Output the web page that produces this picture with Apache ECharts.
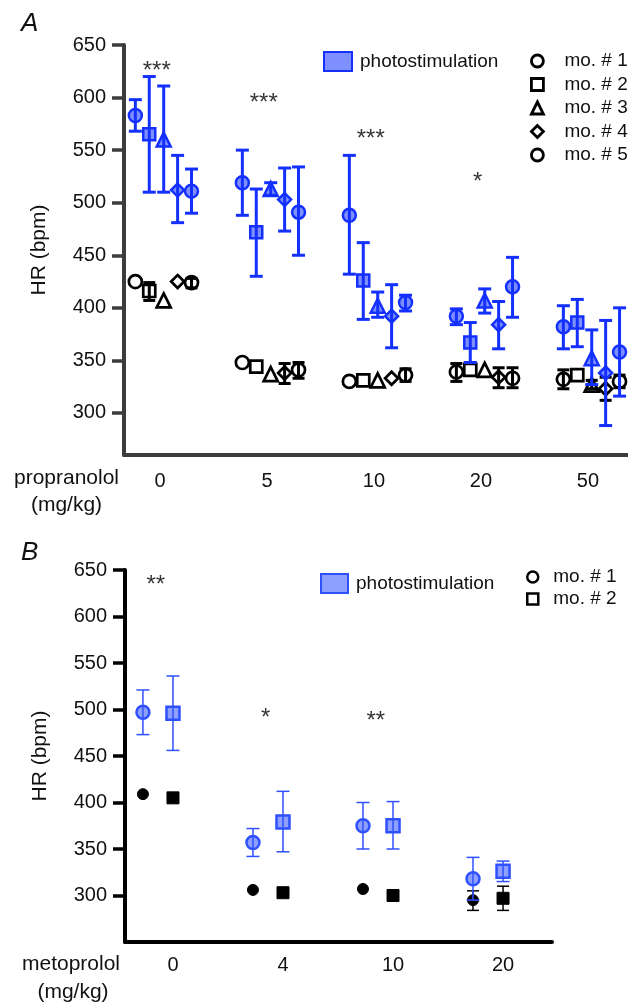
<!DOCTYPE html>
<html><head><meta charset="utf-8">
<script src="https://cdn.jsdelivr.net/npm/echarts@6/dist/echarts.min.js"></script>
<style>html,body{margin:0;padding:0;background:#fff}#c{width:628px;height:1005px}</style>
</head><body><div id="c"></div>
<script>
// ---------- DATA ----------
const dosesA = ['0', '5', '10', '20', '50'];
const dosesB = ['0', '4', '10', '20'];
const miceA = ['mo. # 1', 'mo. # 2', 'mo. # 3', 'mo. # 4', 'mo. # 5'];
const miceB = ['mo. # 1', 'mo. # 2'];
const yTicks = [300, 350, 400, 450, 500, 550, 600, 650];

// Panel A photostimulation: [mouse][dose]
const stimA    = [[583, 519, 488, 392, 382], [565, 472, 426, 367, 386], [560, 513, 402, 407, 352], [512, 503, 392, 384, 338], [511, 491, 405, 420, 358]];
const stimA_lo = [[568, 488, 432, 384, 361], [510, 430, 389, 348, 363], [510, 507, 391, 395, 327], [481, 473, 362, 361, 288], [490, 450, 397, 391, 316]];
const stimA_hi = [[598, 550, 545, 399, 402], [620, 513, 462, 386, 408], [611, 519, 415, 418, 379], [545, 533, 422, 406, 388], [532, 534, 412, 448, 400]];
// Panel A baseline
const baseA    = [[425, 348, 330, 339, 332], [416, 344, 331, 341, 336], [407, 337, 331, 341, 327], [425, 338, 333, 334, 323], [424, 341, 336, 333, 330]];
const baseA_lo = [[425, 348, 330, 330, 323], [407, 344, 331, 341, 336], [407, 337, 331, 341, 323], [425, 328, 333, 324, 312], [419, 333, 330, 324, 324]];
const baseA_hi = [[425, 348, 330, 347, 341], [424, 344, 331, 341, 336], [407, 337, 331, 341, 331], [425, 347, 333, 343, 334], [428, 348, 342, 343, 336]];

// Panel B
const stimB    = [[497, 357, 375, 318], [496, 379, 375, 326]];
const stimB_lo = [[473, 342, 350, 295], [456, 347, 350, 315]];
const stimB_hi = [[521, 372, 400, 341], [536, 412, 401, 337]];
const baseB    = [[409, 306, 307, 295], [405, 303, 300, 297]];
const baseB_lo = [[409, 306, 307, 284], [401, 299, 296, 284]];
const baseB_hi = [[409, 306, 307, 305], [409, 307, 305, 310]];

// significance marks and the HR level they are written at
const sigA = ['***', '***', '***', '*'];
const sigA_at = [625, 594, 560, 519];
const sigB = ['**', '*', '**'];
const sigB_at = [634, 490, 487];

// ---------- LAYOUT / STYLE ----------
const FONT = '"Liberation Sans", Arial, Helvetica, sans-serif';
const offA = [-0.23, -0.10, 0.035, 0.165, 0.295];
const offB = [-0.273, 0];
const shapesA = ['circle', 'rect', 'triangle', 'diamond', 'circle'];
const sizesA = [13, 12, 14, 13, 13];
const shapesB = ['circle', 'rect'];
const BLUE = '#1430ff', BLUE_FILL = '#7e8fff';
const BLUE_B = '#2f50ff', BLUE_B_FILL = '#8ea0ff';

function errSeries(xi, pts, color, lw, cap, z) {
  return {
    type: 'custom', name: 'err', xAxisIndex: xi, yAxisIndex: xi, z: z, silent: true,
    data: pts, encode: { x: 0, y: [1, 2] },
    renderItem: function (params, api) {
      const x = api.value(0), lo = api.value(1), hi = api.value(2);
      if (!(hi > lo)) return null;
      const a = api.coord([x, hi]), b = api.coord([x, lo]);
      const st = { stroke: color, lineWidth: lw };
      return { type: 'group', children: [
        { type: 'line', shape: { x1: a[0], y1: a[1], x2: b[0], y2: b[1] }, style: st },
        { type: 'line', shape: { x1: a[0] - cap / 2, y1: a[1], x2: a[0] + cap / 2, y2: a[1] }, style: st },
        { type: 'line', shape: { x1: b[0] - cap / 2, y1: b[1], x2: b[0] + cap / 2, y2: b[1] }, style: st }
      ]};
    }
  };
}

const series = [];
// Panel A
miceA.forEach(function (m, k) {
  series.push({ type: 'scatter', name: m, xAxisIndex: 0, yAxisIndex: 0, z: 2, symbol: shapesA[k], symbolSize: sizesA[k],
    itemStyle: { color: '#fff', borderColor: '#000', borderWidth: 2.7, opacity: 1 },
    data: baseA[k].map(function (v, i) { return [i + offA[k], v]; }) });
  series.push(errSeries(0, baseA[k].map(function (v, i) { return [i + offA[k], baseA_lo[k][i], baseA_hi[k][i]]; }), '#000', 3, 12, 3));
});
miceA.forEach(function (m, k) {
  series.push({ type: 'scatter', name: 'photostimulation', xAxisIndex: 0, yAxisIndex: 0, z: 4, symbol: shapesA[k], symbolSize: sizesA[k],
    itemStyle: { color: BLUE_FILL, borderColor: BLUE, borderWidth: 2.5, opacity: 1 },
    data: stimA[k].map(function (v, i) { return [i + offA[k], v]; }) });
  series.push(errSeries(0, stimA[k].map(function (v, i) { return [i + offA[k], stimA_lo[k][i], stimA_hi[k][i]]; }), BLUE, 3, 13, 5));
});
// Panel B
miceB.forEach(function (m, k) {
  series.push({ type: 'scatter', name: m, xAxisIndex: 1, yAxisIndex: 1, z: 2, symbol: shapesB[k], symbolSize: k === 0 ? 11 : 12,
    itemStyle: { color: '#000', borderColor: '#000', borderWidth: 1, opacity: 1 },
    data: baseB[k].map(function (v, i) { return [i + offB[k], v]; }) });
  series.push(errSeries(1, baseB[k].map(function (v, i) { return [i + offB[k], baseB_lo[k][i], baseB_hi[k][i]]; }), '#000', 1.5, 12, 3));
});
miceB.forEach(function (m, k) {
  series.push({ type: 'scatter', name: 'photostimulation', xAxisIndex: 1, yAxisIndex: 1, z: 4, symbol: shapesB[k], symbolSize: 13,
    itemStyle: { color: BLUE_B_FILL, borderColor: BLUE_B, borderWidth: 2.5, opacity: 1 },
    data: stimB[k].map(function (v, i) { return [i + offB[k], v]; }) });
  series.push(errSeries(1, stimB[k].map(function (v, i) { return [i + offB[k], stimB_lo[k][i], stimB_hi[k][i]]; }), BLUE_B, 1.5, 13, 5));
});
// significance labels
const sigLabel = { show: true, position: 'inside', fontSize: 24, color: '#000', fontFamily: FONT };
series.push({ type: 'scatter', name: 'sig', xAxisIndex: 0, yAxisIndex: 0, symbolSize: 0, silent: true, z: 6,
  data: sigA.map(function (s, i) { return [i - 0.03, sigA_at[i]]; }),
  label: Object.assign({ formatter: function (p) { return sigA[p.dataIndex]; } }, sigLabel) });
series.push({ type: 'scatter', name: 'sig', xAxisIndex: 1, yAxisIndex: 1, symbolSize: 0, silent: true, z: 6,
  data: sigB.map(function (s, i) { return [i + (offB[0] + offB[1]) / 2 - 0.02, sigB_at[i]]; }),
  label: Object.assign({ formatter: function (p) { return sigB[p.dataIndex]; } }, sigLabel) });

function yAxis(gi, min, color) {
  return {
    type: 'value', gridIndex: gi, min: min, max: 650,
    name: 'HR (bpm)', nameLocation: 'middle', nameGap: 74,
    nameTextStyle: { fontSize: 21, color: '#111', fontFamily: FONT },
    axisLine: { show: true, onZero: false, lineStyle: { color: color, width: 4 } },
    axisTick: { show: true, length: 12, customValues: yTicks, lineStyle: { color: color, width: 3.5 } },
    axisLabel: { customValues: yTicks, margin: 18, fontSize: 20, color: '#111', fontFamily: FONT },
    splitLine: { show: false }
  };
}
function xAxis(gi, min, max, doses, color, margin) {
  return {
    type: 'value', gridIndex: gi, min: min, max: max,
    axisLine: { show: true, onZero: false, lineStyle: { color: color, width: 4 } },
    axisTick: { show: false },
    axisLabel: { customValues: doses.map(function (d, i) { return i; }), margin: margin, fontSize: 20, color: '#111', fontFamily: FONT,
      formatter: function (v) { return doses[Math.round(v)]; } },
    splitLine: { show: false }
  };
}

const legendText = { fontSize: 19, color: '#111', fontFamily: FONT };
const option = {
  animation: false,
  backgroundColor: '#fff',
  grid: [
    { left: 124, top: 45, width: 504, height: 410, outerBoundsMode: 'none', containLabel: false },
    { left: 125, top: 570, width: 427, height: 372, outerBoundsMode: 'none', containLabel: false }
  ],
  xAxis: [xAxis(0, -0.336, 4.374, dosesA, '#3c3c3c', 16), xAxis(1, -0.436, 3.445, dosesB, '#000', 13)],
  yAxis: [yAxis(0, 260, '#3c3c3c'), yAxis(1, 250, '#000')],
  legend: [
    { left: 323, top: 51, padding: 0, itemWidth: 28, itemHeight: 19, selectedMode: false,
      textStyle: Object.assign({ padding: [0, 0, 0, 3] }, legendText),
      data: [{ name: 'photostimulation', icon: 'rect', itemStyle: { color: BLUE_FILL, borderColor: BLUE, borderWidth: 2 } }] },
    { left: 530, top: 51.5, padding: 0, orient: 'vertical', itemWidth: 12, itemHeight: 12, itemGap: 4.5, selectedMode: false,
      textStyle: Object.assign({ padding: [0, 0, 0, 16] }, legendText),
      data: miceA.map(function (m, k) { return { name: m, icon: shapesA[k], itemStyle: { color: '#fff', borderColor: '#000', borderWidth: 2.8 } }; }) },
    { left: 320, top: 573, padding: 0, itemWidth: 27, itemHeight: 19, selectedMode: false,
      textStyle: Object.assign({ padding: [0, 0, 0, 3] }, legendText),
      data: [{ name: 'photostimulation', icon: 'rect', itemStyle: { color: BLUE_B_FILL, borderColor: BLUE_B, borderWidth: 2 } }] },
    { left: 526, top: 567.5, padding: 0, orient: 'vertical', itemWidth: 11, itemHeight: 11, itemGap: 3, selectedMode: false,
      textStyle: Object.assign({ padding: [0, 0, 0, 10] }, legendText),
      data: miceB.map(function (m, k) { return { name: m, icon: shapesB[k], itemStyle: { color: '#fff', borderColor: '#000', borderWidth: 2.5 } }; }) }
  ],
  graphic: [
    { type: 'text', x: 21, y: 24, style: { text: 'A', font: 'italic 26px ' + FONT, fill: '#111', align: 'left', verticalAlign: 'middle' } },
    { type: 'text', x: 21, y: 553, style: { text: 'B', font: 'italic 26px ' + FONT, fill: '#111', align: 'left', verticalAlign: 'middle' } },
    { type: 'text', x: 66.5, y: 478, style: { text: 'propranolol', font: '21px ' + FONT, fill: '#111', align: 'center', verticalAlign: 'middle' } },
    { type: 'text', x: 66.5, y: 505, style: { text: '(mg/kg)', font: '21px ' + FONT, fill: '#111', align: 'center', verticalAlign: 'middle' } },
    { type: 'text', x: 71, y: 964, style: { text: 'metoprolol', font: '21px ' + FONT, fill: '#111', align: 'center', verticalAlign: 'middle' } },
    { type: 'text', x: 73, y: 992, style: { text: '(mg/kg)', font: '21px ' + FONT, fill: '#111', align: 'center', verticalAlign: 'middle' } }
  ],
  series: series
};
const chart = echarts.init(document.getElementById('c'), null, { renderer: 'canvas' });
chart.setOption(option);
</script></body></html>
